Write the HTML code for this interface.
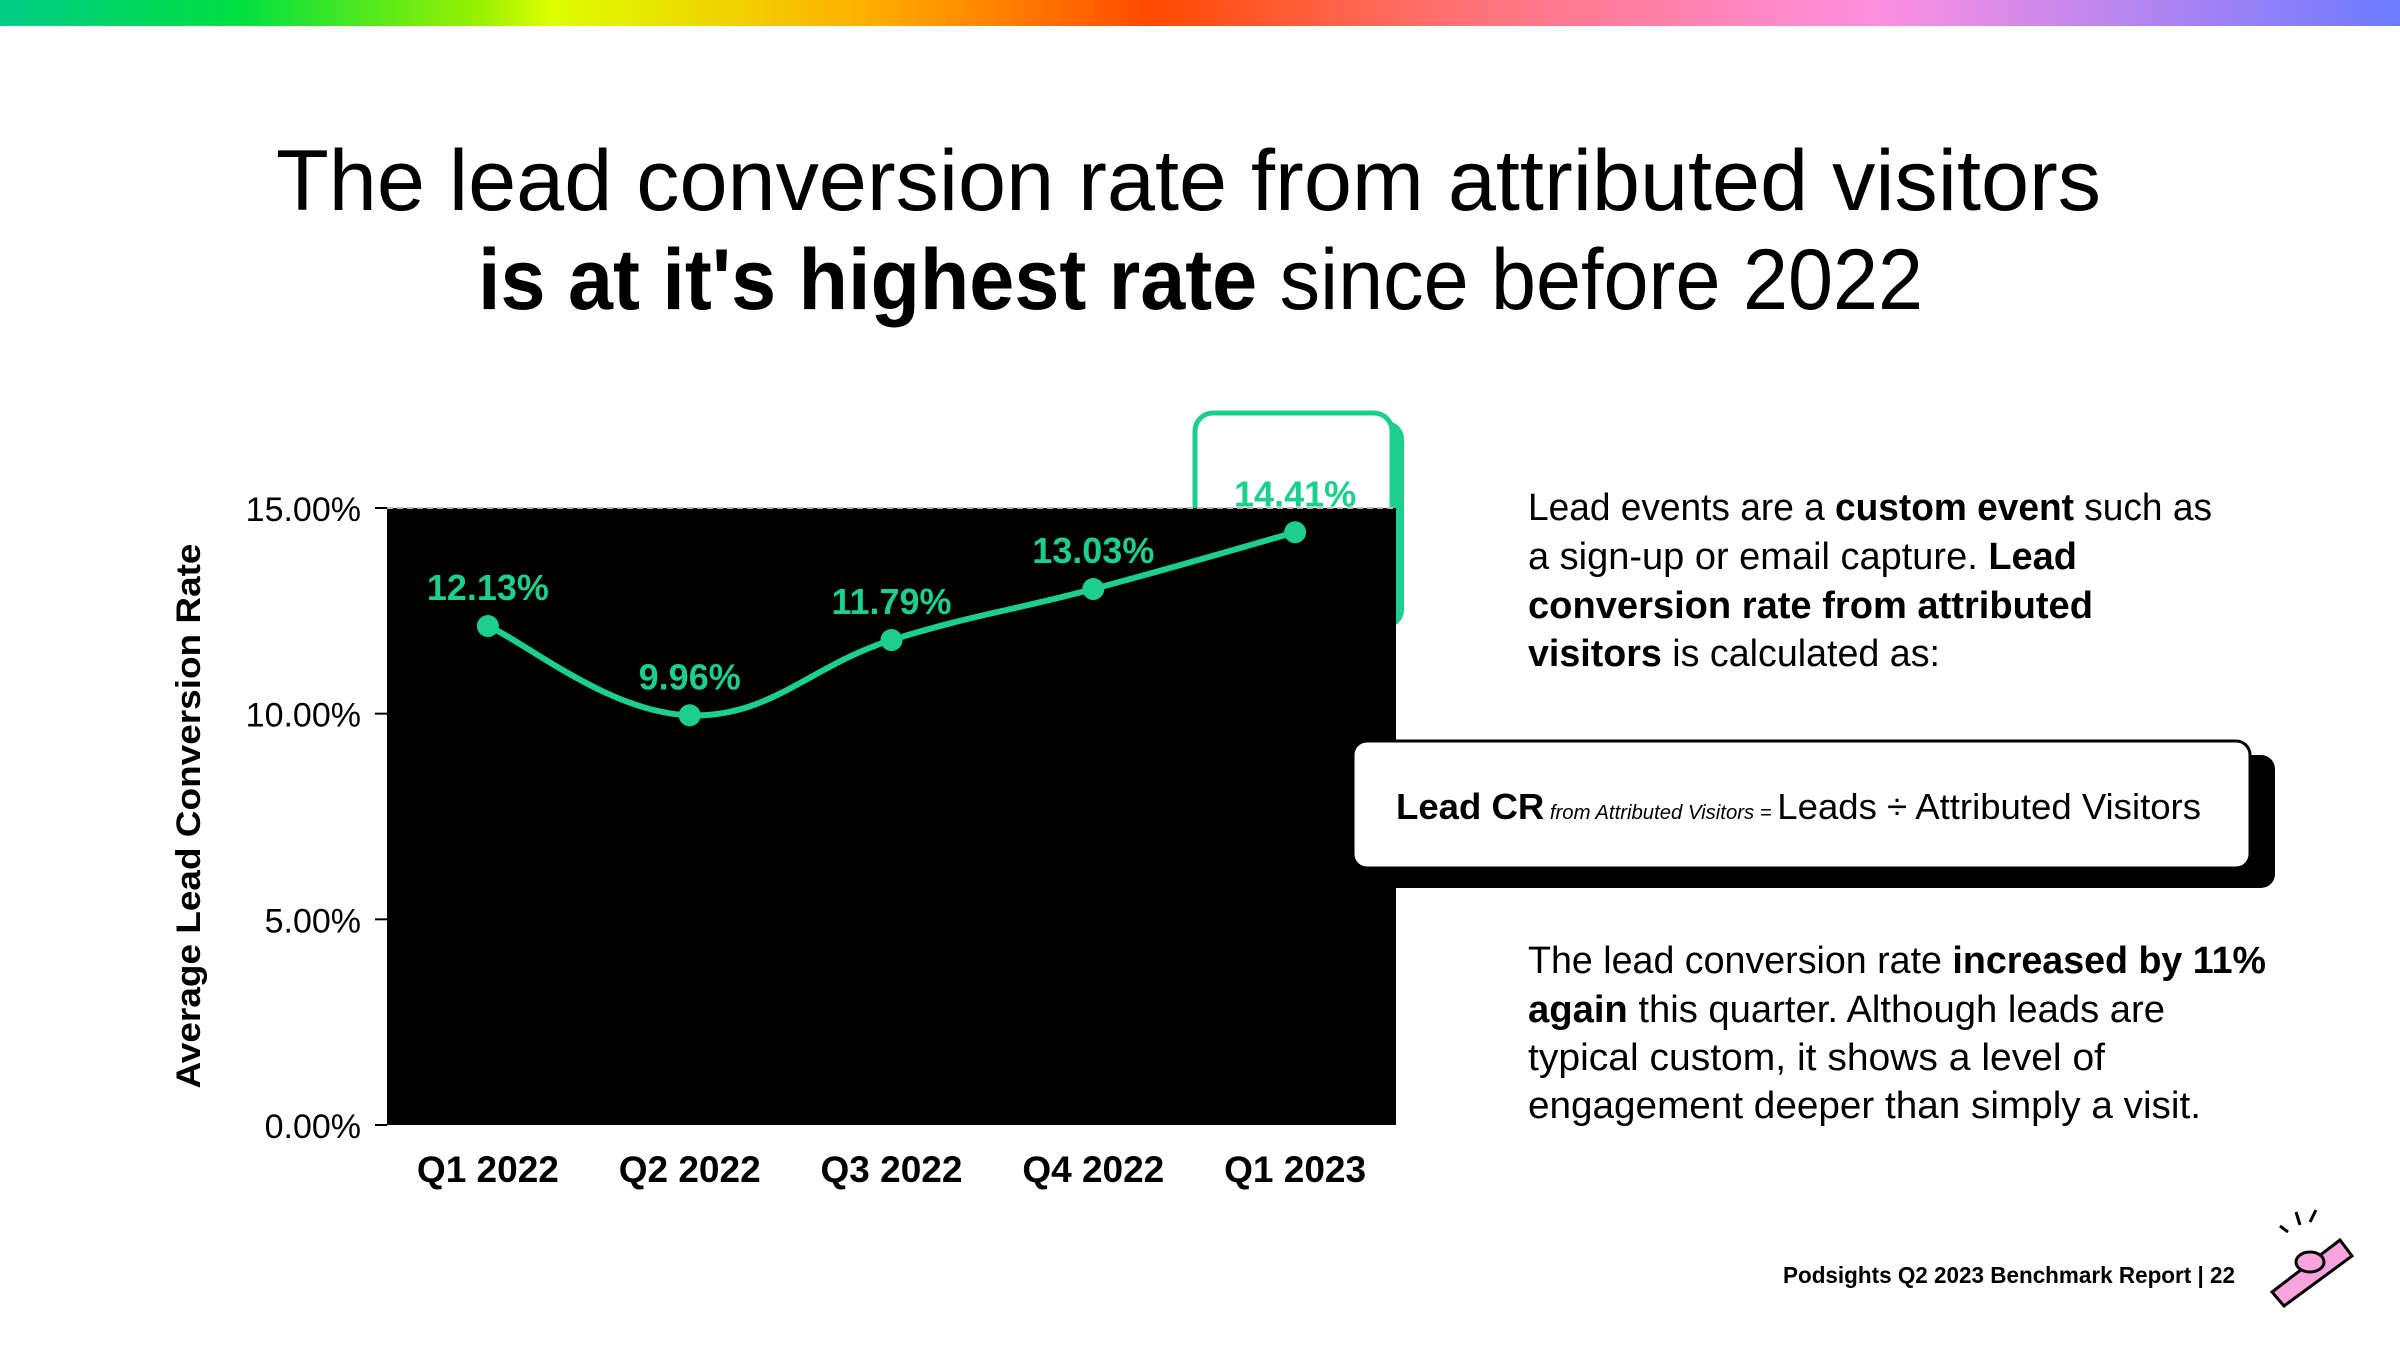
<!DOCTYPE html>
<html><head><meta charset="utf-8"><style>html,body{margin:0;padding:0;background:#fff}svg{display:block}text{font-family:"Liberation Sans",sans-serif}</style></head>
<body>
<svg id="root" width="2400" height="1350" viewBox="0 0 2400 1350" xmlns="http://www.w3.org/2000/svg">
<defs>
<linearGradient id="rb" x1="0" x2="1" y1="0" y2="0">
<stop offset="0" stop-color="#00cc88"/><stop offset="0.1" stop-color="#00e040"/><stop offset="0.2" stop-color="#99f000"/><stop offset="0.23" stop-color="#ddff00"/><stop offset="0.36" stop-color="#ffb000"/><stop offset="0.48" stop-color="#ff4a00"/><stop offset="0.6" stop-color="#ff7070"/><stop offset="0.78" stop-color="#ff90e0"/><stop offset="1" stop-color="#6b7bff"/>
</linearGradient>
</defs>
<rect x="0" y="0" width="2400" height="26" fill="url(#rb)"/>
<g>
<text x="276" y="210" font-size="86" textLength="1825" lengthAdjust="spacingAndGlyphs" fill="#000">The lead conversion rate from attributed visitors</text>
<text x="478" y="309" font-size="86" textLength="1445" lengthAdjust="spacingAndGlyphs" fill="#000"><tspan font-weight="bold">is at it's highest rate</tspan> since before 2022</text>
</g>
<g>
<rect x="1207" y="421" width="197" height="207" rx="18" fill="#1ccf8e"/>
<rect x="1195" y="413" width="197" height="207" rx="18" fill="#fff" stroke="#1ccf8e" stroke-width="5"/>
</g>
<g id="chart"></g>
<text transform="translate(200,816) rotate(-90)" text-anchor="middle" font-size="34" font-weight="bold" textLength="545" lengthAdjust="spacingAndGlyphs">Average Lead Conversion Rate</text>
<g font-size="38" fill="#000">
<text x="1528" y="520" textLength="684" lengthAdjust="spacingAndGlyphs">Lead events are a <tspan font-weight="bold">custom event</tspan> such as</text>
<text x="1528" y="569" textLength="549" lengthAdjust="spacingAndGlyphs">a sign-up or email capture. <tspan font-weight="bold">Lead</tspan></text>
<text x="1528" y="618" textLength="565" lengthAdjust="spacingAndGlyphs" font-weight="bold">conversion rate from attributed</text>
<text x="1528" y="666" textLength="412" lengthAdjust="spacingAndGlyphs"><tspan font-weight="bold">visitors</tspan> is calculated as:</text>
</g>
<g>
<rect x="1369" y="755" width="906" height="133" rx="14" fill="#000"/>
<rect x="1353" y="741" width="897" height="127" rx="14" fill="#fff" stroke="#000" stroke-width="3"/>
<text x="1396" y="819" font-size="36" textLength="805" lengthAdjust="spacingAndGlyphs"><tspan font-weight="bold">Lead CR</tspan><tspan font-size="20" font-style="italic"> from Attributed Visitors = </tspan> Leads ÷ Attributed Visitors</text>
</g>
<g font-size="38" fill="#000">
<text x="1528" y="973" textLength="738" lengthAdjust="spacingAndGlyphs">The lead conversion rate <tspan font-weight="bold">increased by 11%</tspan></text>
<text x="1528" y="1022" textLength="637" lengthAdjust="spacingAndGlyphs"><tspan font-weight="bold">again</tspan> this quarter. Although leads are</text>
<text x="1528" y="1070" textLength="577" lengthAdjust="spacingAndGlyphs">typical custom, it shows a level of</text>
<text x="1528" y="1118" textLength="673" lengthAdjust="spacingAndGlyphs">engagement deeper than simply a visit.</text>
</g>
<text x="1783" y="1283" font-size="23" font-weight="bold" textLength="452" lengthAdjust="spacingAndGlyphs">Podsights Q2 2023 Benchmark Report | 22</text>
<g stroke="#000" stroke-width="3">
<path d="M2272 1292 L2340 1240 L2352 1256 L2284 1306 Z" fill="#f7a3dc"/>
<ellipse cx="2310" cy="1262" rx="14" ry="10" fill="#f7a3dc"/>
<line x1="2300" y1="1225" x2="2296" y2="1212"/><line x1="2310" y1="1222" x2="2316" y2="1210"/><line x1="2288" y1="1232" x2="2280" y2="1226"/>
</g>
</svg>
<script>
const categories = ["Q1 2022","Q2 2022","Q3 2022","Q4 2022","Q1 2023"];
const values = [12.13, 9.96, 11.79, 13.03, 14.41];
const valueLabels = ["12.13%","9.96%","11.79%","13.03%","14.41%"];
const yTicks = [0, 5, 10, 15];
const yTickLabels = ["0.00%","5.00%","10.00%","15.00%"];

const NS = "http://www.w3.org/2000/svg";
const chart = document.getElementById("chart");
const L = 387, R = 1396, T = 508, B = 1125, yMax = 15;
const xPos = i => L + (i + 0.5) * (R - L) / categories.length;
const yPos = v => B - v / yMax * (B - T);
function mk(tag, attrs) { const e = document.createElementNS(NS, tag); for (const k in attrs) e.setAttribute(k, attrs[k]); chart.appendChild(e); return e; }

const bg = mk("rect", {x: L, y: T, width: R - L, height: B - T, fill: "#000"});



yTicks.forEach((t, i) => {
  const y = yPos(t);
  const tk = mk("line", {x1: L - 12, x2: L, y1: y, y2: y, stroke: "#000", "stroke-width": 2});
  
  
  const lb = mk("text", {x: 361, y: y + 13, "text-anchor": "end", "font-size": 34, fill: "#000"});
  lb.textContent = yTickLabels[i];
  
  
});
const grid = mk("line", {x1: L, x2: R, y1: yPos(15), y2: yPos(15), stroke: "#bbb", "stroke-width": 2, "stroke-dasharray": "6 4"});



categories.forEach((c, i) => {
  const lb = mk("text", {x: xPos(i), y: 1182, "text-anchor": "middle", "font-size": 37, "font-weight": "bold", fill: "#000"});
  lb.textContent = c;
  
  
});

const pts = values.map((v, i) => [xPos(i), yPos(v)]);
let d = "M" + pts[0][0] + "," + pts[0][1];
for (let i = 0; i < pts.length - 1; i++) {
  const p0 = pts[Math.max(0, i - 1)], p1 = pts[i], p2 = pts[i + 1], p3 = pts[Math.min(pts.length - 1, i + 2)];
  const t = 0.2;
  const c1 = [p1[0] + (p2[0] - p0[0]) * t, p1[1] + (p2[1] - p0[1]) * t];
  const c2 = [p2[0] - (p3[0] - p1[0]) * t, p2[1] - (p3[1] - p1[1]) * t];
  d += " C" + c1 + " " + c2 + " " + p2;
}
const line = mk("path", {d: d, fill: "none", stroke: "#1ccf8e", "stroke-width": 6});



pts.forEach((p, i) => {
  const c = mk("circle", {cx: p[0], cy: p[1], r: 11, fill: "#1ccf8e"});
  
  
  const lb = mk("text", {x: p[0], y: p[1] - 26, "text-anchor": "middle", "font-size": 36, "font-weight": "bold", fill: "#1ccf8e"});
  lb.textContent = valueLabels[i];
  
  
});
</script>
</body></html>
